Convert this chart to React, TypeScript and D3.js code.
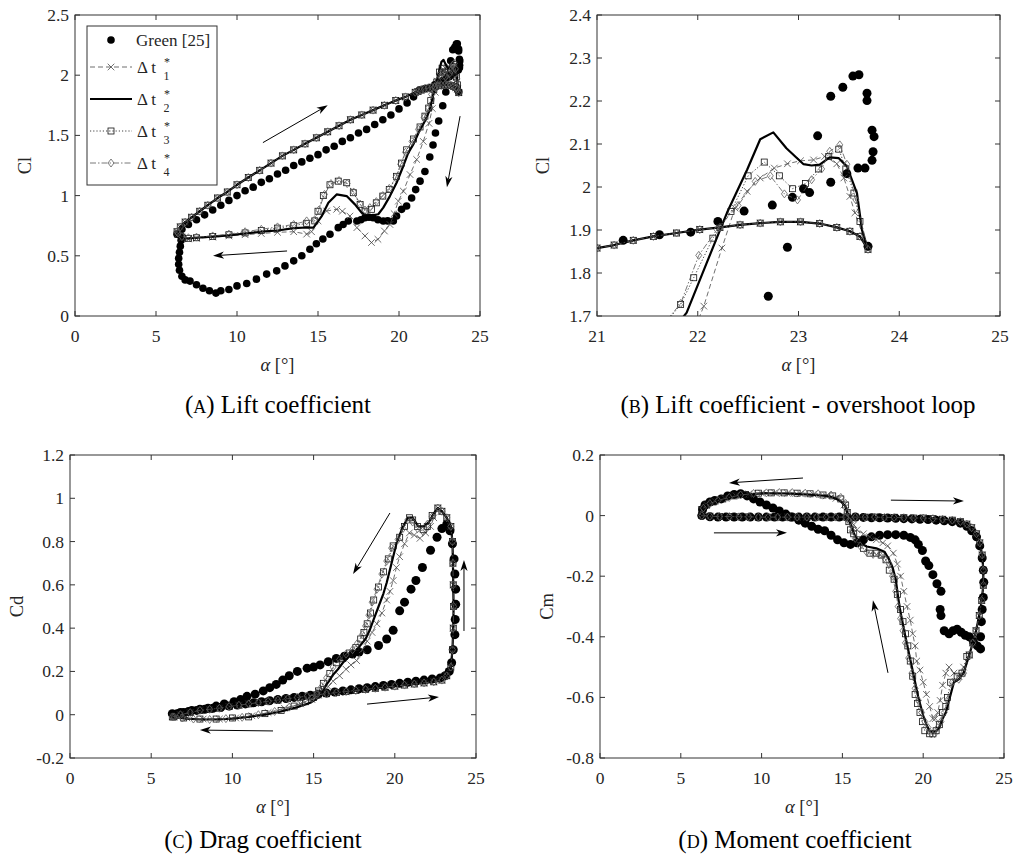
import React from "react";
import * as d3 from "d3";

type Pt = [number, number];

// ---------- axis ticks ----------
const xTicksFull = [0, 5, 10, 15, 20, 25];
const xTicksZoom = [21, 22, 23, 24, 25];
const yTicksCl = [0, 0.5, 1, 1.5, 2, 2.5];
const yTicksClZoom = [1.7, 1.8, 1.9, 2, 2.1, 2.2, 2.3, 2.4];
const yTicksCd = [-0.2, 0, 0.2, 0.4, 0.6, 0.8, 1, 1.2];
const yTicksCm = [-0.8, -0.6, -0.4, -0.2, 0, 0.2];

const legendLabels = ["Green [25]", "1", "2", "3", "4"];

// ---------- lift coefficient ----------
const clGreen: Pt[] = [
  [6.3, 0.68], [6.6, 0.72], [7.0, 0.76], [7.5, 0.8], [8.0, 0.84], [8.5, 0.88], [9.0, 0.92], [9.5, 0.96],
  [10.0, 1.0], [10.5, 1.04], [11.0, 1.07], [11.5, 1.11], [12.0, 1.14], [12.5, 1.18], [13.0, 1.21], [13.5, 1.25],
  [14.0, 1.28], [14.5, 1.31], [15.0, 1.34], [15.5, 1.38], [16.0, 1.41], [16.5, 1.45], [17.0, 1.48], [17.5, 1.52],
  [18.0, 1.55], [18.5, 1.59], [19.0, 1.63], [19.5, 1.67], [20.0, 1.72], [20.5, 1.77], [20.9, 1.82], [21.26, 1.876],
  [21.62, 1.889], [21.93, 1.895], [22.2, 1.92], [22.46, 1.944], [22.74, 1.958], [22.94, 1.976], [23.11, 1.987],
  [23.32, 2.011], [23.48, 2.031], [23.59, 2.044], [23.66, 2.044], [23.73, 2.062], [23.74, 2.082], [23.75, 2.117],
  [23.73, 2.132], [23.68, 2.201], [23.68, 2.218], [23.6, 2.261], [23.54, 2.258], [23.44, 2.232], [23.32, 2.211],
  [23.19, 2.119], [23.05, 1.996], [22.89, 1.86], [22.7, 1.746], [22.45, 1.62], [22.25, 1.52], [22.1, 1.42],
  [21.9, 1.32], [21.6, 1.2], [21.3, 1.12], [21.03, 1.05], [20.78, 0.98], [20.47, 0.913], [20.16, 0.886],
  [19.85, 0.83], [19.65, 0.789], [19.3, 0.79], [19.03, 0.789], [18.7, 0.8], [18.4, 0.817], [18.15, 0.82],
  [17.9, 0.817], [17.65, 0.8], [17.4, 0.789], [16.87, 0.789], [16.55, 0.76], [16.25, 0.734], [15.74, 0.679],
  [15.3, 0.64], [14.9, 0.6], [14.5, 0.555], [14.0, 0.5], [13.5, 0.458], [12.96, 0.416], [12.45, 0.375],
  [11.83, 0.348], [11.2, 0.306], [10.6, 0.27], [10.0, 0.25], [9.5, 0.22], [9.0, 0.21], [8.7, 0.19], [8.3, 0.21],
  [7.9, 0.23], [7.5, 0.26], [7.1, 0.29], [6.8, 0.3], [6.6, 0.33], [6.45, 0.38], [6.4, 0.43], [6.4, 0.48],
  [6.45, 0.53], [6.5, 0.58], [6.55, 0.63], [6.5, 0.67], [23.69, 1.862],
];

// upstroke branch, shared by the four time steps
const clUp: Pt[] = [
  [6.3, 0.7], [6.5, 0.74], [6.8, 0.78], [7.2, 0.82], [7.7, 0.87], [8.2, 0.92], [8.8, 0.98], [9.4, 1.03],
  [10.0, 1.09], [10.7, 1.15], [11.4, 1.21], [12.1, 1.27], [12.8, 1.33], [13.5, 1.38], [14.2, 1.43], [14.9, 1.48],
  [15.6, 1.53], [16.3, 1.58], [17.0, 1.63], [17.7, 1.67], [18.4, 1.71], [19.1, 1.75], [19.8, 1.79], [20.4, 1.82],
  [21.0, 1.858], [21.17, 1.865], [21.36, 1.876], [21.56, 1.885], [21.79, 1.893], [22.02, 1.901], [22.22, 1.906],
  [22.42, 1.912], [22.62, 1.916], [22.82, 1.919], [23.02, 1.919], [23.21, 1.915], [23.38, 1.906], [23.51, 1.897],
  [23.61, 1.885], [23.69, 1.855],
];

const clDt1Down: Pt[] = [
  [23.56, 1.94], [23.51, 1.978], [23.45, 2.021], [23.38, 2.054], [23.26, 2.071], [23.15, 2.063], [23.02, 2.061],
  [22.89, 2.054], [22.76, 2.044], [22.62, 2.021], [22.49, 1.99], [22.37, 1.951], [22.24, 1.858], [22.06, 1.723],
  [21.85, 1.6], [21.5, 1.45], [21.09, 1.3], [20.68, 1.175], [20.27, 1.037], [19.96, 0.954], [19.7, 0.85],
  [19.44, 0.76], [19.1, 0.706], [18.7, 0.637], [18.3, 0.61], [17.9, 0.665], [17.4, 0.734], [16.97, 0.83],
  [16.5, 0.87], [16.15, 0.886], [15.53, 0.872], [15.0, 0.79], [14.6, 0.7], [14.3, 0.68], [13.5, 0.7],
  [12.5, 0.695], [11.5, 0.685], [10.5, 0.675], [9.5, 0.665], [8.5, 0.655], [7.5, 0.645], [7.0, 0.64],
  [6.6, 0.65], [6.35, 0.68],
];
const clDt2Down: Pt[] = [
  [23.63, 1.9], [23.58, 1.986], [23.48, 2.048], [23.4, 2.067], [23.31, 2.069], [23.21, 2.052], [23.13, 2.05],
  [23.05, 2.053], [22.88, 2.09], [22.75, 2.127], [22.62, 2.111], [22.49, 2.04], [22.29, 1.94], [22.09, 1.824],
  [21.89, 1.708], [21.6, 1.62], [21.2, 1.52], [20.9, 1.43], [20.57, 1.355], [20.26, 1.244], [19.85, 1.107],
  [19.44, 0.996], [19.03, 0.9], [18.72, 0.845], [18.1, 0.83], [17.7, 0.858], [17.28, 0.927], [16.77, 0.996],
  [16.15, 1.01], [15.64, 0.94], [15.23, 0.83], [14.72, 0.734], [14.3, 0.735], [13.5, 0.73], [12.5, 0.71],
  [11.5, 0.7], [10.5, 0.685], [9.5, 0.67], [8.5, 0.66], [7.5, 0.65], [7.0, 0.645], [6.6, 0.65], [6.35, 0.68],
];
const clDt3Down: Pt[] = [
  [23.61, 1.92], [23.55, 1.986], [23.47, 2.042], [23.4, 2.088], [23.3, 2.071], [23.2, 2.042], [23.07, 2.008],
  [22.94, 1.996], [22.81, 2.026], [22.66, 2.058], [22.5, 2.026], [22.33, 1.943], [22.15, 1.881], [21.96, 1.789],
  [21.83, 1.727], [21.6, 1.66], [21.3, 1.57], [20.9, 1.47], [20.47, 1.38], [20.16, 1.27], [19.85, 1.16],
  [19.4, 1.05], [19.0, 0.996], [18.6, 0.94], [18.3, 0.886], [17.9, 0.87], [17.6, 0.927], [17.18, 1.024],
  [16.77, 1.107], [16.25, 1.12], [15.74, 1.09], [15.33, 1.0], [15.0, 0.87], [14.8, 0.79], [14.3, 0.77],
  [13.5, 0.75], [12.5, 0.73], [11.5, 0.71], [10.5, 0.69], [9.5, 0.675], [8.5, 0.66], [7.5, 0.65], [7.0, 0.645],
  [6.6, 0.655], [6.35, 0.68],
];
const clDt4Down: Pt[] = [
  [23.57, 1.97], [23.48, 2.053], [23.41, 2.098], [23.31, 2.083], [23.23, 2.042], [23.13, 2.017], [22.99, 1.97],
  [22.86, 1.984], [22.72, 2.026], [22.57, 2.013], [22.4, 1.957], [22.19, 1.901], [22.01, 1.841], [21.83, 1.729],
  [21.55, 1.65], [21.2, 1.55], [20.8, 1.45], [20.4, 1.36], [20.1, 1.26], [19.8, 1.15], [19.4, 1.06],
  [19.0, 1.0], [18.6, 0.95], [18.2, 0.9], [17.9, 0.88], [17.6, 0.93], [17.2, 1.03], [16.8, 1.1], [16.3, 1.125],
  [15.8, 1.1], [15.4, 1.01], [15.05, 0.88], [14.8, 0.8], [14.3, 0.79], [13.5, 0.76], [12.5, 0.74], [11.5, 0.72],
  [10.5, 0.7], [9.5, 0.68], [8.5, 0.665], [7.5, 0.655], [7.0, 0.65], [6.6, 0.66], [6.35, 0.69],
];

// ---------- drag coefficient ----------
const cdGreen: Pt[] = [
  [6.3, 0.005], [6.8, 0.01], [7.3, 0.015], [7.8, 0.02], [8.3, 0.025], [8.8, 0.03], [9.3, 0.035], [9.8, 0.04],
  [10.3, 0.045], [10.8, 0.05], [11.3, 0.055], [11.8, 0.06], [12.3, 0.065], [12.8, 0.07], [13.3, 0.075],
  [13.8, 0.08], [14.3, 0.085], [14.8, 0.09], [15.3, 0.095], [15.8, 0.1], [16.3, 0.105], [16.8, 0.11],
  [17.3, 0.115], [17.8, 0.12], [18.3, 0.125], [18.8, 0.13], [19.3, 0.135], [19.8, 0.14], [20.3, 0.145],
  [20.8, 0.15], [21.3, 0.155], [21.8, 0.16], [22.3, 0.165], [22.8, 0.17], [23.1, 0.18], [23.35, 0.2],
  [23.5, 0.24], [23.6, 0.3], [23.7, 0.37], [23.72, 0.44], [23.75, 0.51], [23.75, 0.58], [23.7, 0.65],
  [23.65, 0.72], [23.55, 0.79], [23.4, 0.85], [23.2, 0.88], [22.9, 0.86], [22.6, 0.82], [22.2, 0.76],
  [21.7, 0.68], [21.3, 0.62], [21.0, 0.58], [20.6, 0.52], [20.3, 0.48], [19.9, 0.39], [19.5, 0.35], [19.0, 0.32],
  [18.3, 0.3], [17.8, 0.29], [17.4, 0.28], [16.9, 0.27], [16.4, 0.26], [15.9, 0.245], [15.4, 0.23], [15.0, 0.22],
  [14.6, 0.215], [14.0, 0.2], [13.5, 0.18], [13.1, 0.16], [12.7, 0.14], [12.3, 0.125], [11.9, 0.11],
  [11.4, 0.095], [10.9, 0.085], [10.5, 0.07], [10.1, 0.06], [9.5, 0.05], [9.0, 0.04], [8.5, 0.03], [8.0, 0.025],
  [7.5, 0.02], [7.0, 0.01], [6.6, 0.005], [6.4, 0.0],
];

const cdUp: Pt[] = [
  [6.3, -0.01], [6.8, 0.0], [7.4, 0.01], [8.0, 0.02], [8.6, 0.025], [9.2, 0.03], [9.8, 0.038], [10.4, 0.044],
  [11.0, 0.05], [11.6, 0.056], [12.2, 0.062], [12.8, 0.068], [13.4, 0.074], [14.0, 0.08], [14.6, 0.086],
  [15.2, 0.092], [15.8, 0.097], [16.4, 0.102], [17.0, 0.107], [17.6, 0.112], [18.2, 0.117], [18.8, 0.122],
  [19.4, 0.127], [20.0, 0.132], [20.6, 0.137], [21.2, 0.142], [21.8, 0.147], [22.4, 0.152], [22.9, 0.16],
  [23.2, 0.18], [23.45, 0.22], [23.55, 0.3], [23.6, 0.4], [23.62, 0.5], [23.6, 0.6], [23.58, 0.7], [23.55, 0.8],
  [23.45, 0.87], [23.2, 0.91], [22.9, 0.94], [22.65, 0.955],
];

const cdDt1Down: Pt[] = [
  [22.4, 0.91], [22.2, 0.87], [21.9, 0.84], [21.55, 0.815], [21.2, 0.83], [20.9, 0.84], [20.6, 0.79],
  [20.3, 0.73], [20.1, 0.68], [19.9, 0.62], [19.7, 0.57], [19.5, 0.53], [19.2, 0.47], [18.9, 0.42], [18.6, 0.38],
  [18.3, 0.34], [18.0, 0.3], [17.65, 0.25], [17.3, 0.23], [17.0, 0.21], [16.6, 0.18], [16.2, 0.155],
  [15.9, 0.13], [15.6, 0.115], [15.3, 0.09], [14.9, 0.07], [14.2, 0.05], [13.2, 0.03], [12.2, 0.01],
  [11.2, -0.005], [10.2, -0.015], [9.2, -0.02], [8.2, -0.02], [7.2, -0.015], [6.4, -0.01],
];
const cdDt2Down: Pt[] = [
  [22.4, 0.93], [22.1, 0.89], [21.8, 0.87], [21.45, 0.87], [21.1, 0.91], [20.8, 0.91], [20.45, 0.86],
  [20.1, 0.79], [19.9, 0.73], [19.7, 0.67], [19.5, 0.61], [19.3, 0.56], [19.0, 0.5], [18.7, 0.44], [18.45, 0.39],
  [18.2, 0.35], [17.65, 0.3], [17.2, 0.27], [16.8, 0.24], [16.5, 0.21], [16.2, 0.185], [15.95, 0.155],
  [15.7, 0.13], [15.5, 0.1], [15.2, 0.075], [14.8, 0.055], [14.0, 0.035], [13.0, 0.015], [12.0, 0.0],
  [11.0, -0.01], [10.0, -0.018], [9.0, -0.022], [8.0, -0.022], [7.0, -0.017], [6.4, -0.01],
];
const cdDt3Down: Pt[] = [
  [22.3, 0.92], [22.0, 0.87], [21.75, 0.855], [21.4, 0.87], [21.1, 0.9], [20.9, 0.91], [20.6, 0.87],
  [20.3, 0.82], [19.9, 0.78], [19.6, 0.72], [19.3, 0.66], [19.0, 0.59], [18.7, 0.53], [18.5, 0.47], [18.3, 0.42],
  [18.1, 0.38], [17.9, 0.35], [17.6, 0.31], [17.2, 0.285], [16.8, 0.26], [16.4, 0.24], [16.0, 0.19],
  [15.6, 0.145], [15.3, 0.11], [15.0, 0.08], [14.5, 0.06], [13.8, 0.04], [13.0, 0.02], [12.0, 0.005],
  [11.0, -0.01], [10.0, -0.015], [9.0, -0.02], [8.0, -0.02], [7.0, -0.015], [6.4, -0.01],
];
const cdDt4Down: Pt[] = [
  [22.3, 0.915], [22.0, 0.88], [21.7, 0.85], [21.4, 0.86], [21.1, 0.89], [20.8, 0.9], [20.5, 0.86],
  [20.2, 0.81], [19.8, 0.77], [19.5, 0.71], [19.2, 0.65], [18.9, 0.58], [18.6, 0.52], [18.4, 0.46], [18.2, 0.41],
  [18.0, 0.37], [17.7, 0.33], [17.4, 0.3], [17.0, 0.28], [16.6, 0.255], [16.2, 0.22], [15.8, 0.17],
  [15.5, 0.13], [15.2, 0.1], [14.9, 0.075], [14.3, 0.055], [13.5, 0.035], [12.6, 0.015], [11.6, 0.0],
  [10.6, -0.012], [9.6, -0.018], [8.6, -0.022], [7.6, -0.02], [6.9, -0.015], [6.4, -0.01],
];

// ---------- moment coefficient ----------
const cmGreen: Pt[] = [
  [6.3, 0.0], [6.8, -0.004], [7.3, -0.005], [7.8, -0.005], [8.3, -0.005], [8.8, -0.005], [9.3, -0.005],
  [9.8, -0.005], [10.3, -0.005], [10.8, -0.005], [11.3, -0.005], [11.8, -0.005], [12.3, -0.005],
  [12.8, -0.005], [13.3, -0.005], [13.8, -0.005], [14.3, -0.005], [14.8, -0.005], [15.3, -0.005],
  [15.8, -0.005], [16.3, -0.006], [16.8, -0.007], [17.3, -0.007], [17.8, -0.008], [18.3, -0.009],
  [18.8, -0.01], [19.3, -0.011], [19.8, -0.012], [20.3, -0.013], [20.8, -0.015], [21.3, -0.017],
  [21.8, -0.02], [22.3, -0.025], [22.7, -0.035], [23.0, -0.05], [23.3, -0.07], [23.5, -0.1], [23.65, -0.14],
  [23.72, -0.18], [23.75, -0.22], [23.72, -0.27], [23.65, -0.31], [23.6, -0.35], [23.55, -0.4],
  [23.55, -0.44], [23.35, -0.43], [23.1, -0.415], [22.85, -0.4], [22.6, -0.395], [22.35, -0.385],
  [22.1, -0.375], [21.85, -0.38], [21.6, -0.39], [21.3, -0.38], [21.1, -0.33], [21.05, -0.31], [21.1, -0.25],
  [20.85, -0.225], [20.6, -0.195], [20.35, -0.165], [20.15, -0.15], [19.95, -0.115], [19.7, -0.095],
  [19.5, -0.08], [19.2, -0.072], [18.8, -0.065], [18.3, -0.063], [17.8, -0.063], [17.3, -0.065],
  [16.8, -0.07], [16.3, -0.08], [15.9, -0.09], [15.5, -0.095], [15.1, -0.09], [14.7, -0.08], [14.3, -0.065],
  [13.9, -0.05], [13.5, -0.045], [13.1, -0.035], [12.7, -0.025], [12.3, -0.015], [11.9, -0.005],
  [11.5, 0.005], [11.1, 0.015], [10.7, 0.025], [10.3, 0.035], [9.9, 0.045], [9.5, 0.055], [9.1, 0.065],
  [8.7, 0.072], [8.3, 0.07], [7.9, 0.065], [7.5, 0.055], [7.1, 0.05], [6.8, 0.045], [6.5, 0.035],
  [6.35, 0.02],
];

const cmUp: Pt[] = [
  [6.3, 0.0], [6.8, -0.002], [7.4, -0.003], [8.0, -0.003], [8.6, -0.004], [9.2, -0.004], [9.8, -0.005],
  [10.4, -0.005], [11.0, -0.005], [11.6, -0.005], [12.2, -0.005], [12.8, -0.005], [13.4, -0.005],
  [14.0, -0.005], [14.6, -0.005], [15.2, -0.005], [15.8, -0.005], [16.4, -0.005], [17.0, -0.005],
  [17.6, -0.006], [18.2, -0.006], [18.8, -0.007], [19.4, -0.008], [20.0, -0.008], [20.6, -0.01],
  [21.2, -0.012], [21.8, -0.015], [22.3, -0.02], [22.7, -0.028], [23.0, -0.04], [23.3, -0.06], [23.5, -0.09],
  [23.65, -0.13], [23.72, -0.18], [23.72, -0.23], [23.62, -0.28], [23.47, -0.33], [23.27, -0.38],
  [23.07, -0.42], [22.85, -0.46],
];

const cmDt1Down: Pt[] = [
  [22.5, -0.5], [22.2, -0.53], [21.9, -0.52], [21.6, -0.5], [21.4, -0.52], [21.2, -0.56], [21.05, -0.61],
  [20.9, -0.65], [20.75, -0.67], [20.6, -0.67], [20.4, -0.63], [20.2, -0.59], [20.0, -0.55], [19.8, -0.51],
  [19.6, -0.48], [19.5, -0.43], [19.35, -0.39], [19.2, -0.345], [19.0, -0.3], [18.8, -0.25], [18.6, -0.2],
  [18.4, -0.16], [18.15, -0.124], [17.8, -0.1], [17.5, -0.09], [17.1, -0.08], [16.7, -0.07], [16.3, -0.06],
  [15.9, -0.047], [15.7, -0.03], [15.5, -0.014], [15.3, 0.01], [15.1, 0.035], [14.6, 0.057], [14.0, 0.065],
  [13.2, 0.07], [12.4, 0.072], [11.6, 0.074], [10.8, 0.075], [10.0, 0.074], [9.2, 0.071], [8.4, 0.066],
  [7.7, 0.058], [7.1, 0.048], [6.6, 0.035], [6.3, 0.018],
];
const cmDt2Down: Pt[] = [
  [22.5, -0.52], [22.2, -0.54], [21.9, -0.55], [21.6, -0.61], [21.4, -0.65], [21.2, -0.67], [21.0, -0.7],
  [20.8, -0.71], [20.6, -0.715], [20.4, -0.71], [20.2, -0.69], [20.0, -0.66], [19.85, -0.63], [19.7, -0.6],
  [19.5, -0.55], [19.3, -0.5], [19.1, -0.45], [18.9, -0.4], [18.75, -0.36], [18.6, -0.32], [18.45, -0.27],
  [18.3, -0.21], [18.1, -0.17], [17.9, -0.146], [17.6, -0.119], [17.1, -0.108], [16.5, -0.102], [16.1, -0.09],
  [15.9, -0.075], [15.7, -0.058], [15.55, -0.035], [15.4, -0.014], [15.3, 0.01], [15.2, 0.03], [14.85, 0.05],
  [14.4, 0.06], [14.0, 0.065], [13.2, 0.068], [12.4, 0.071], [11.4, 0.073], [10.3, 0.074], [9.5, 0.072],
  [8.7, 0.068], [8.0, 0.06], [7.4, 0.052], [6.9, 0.043], [6.6, 0.035], [6.3, 0.019],
];
const cmDt3Down: Pt[] = [
  [22.7, -0.465], [22.4, -0.52], [22.1, -0.53], [21.7, -0.55], [21.5, -0.6], [21.4, -0.63], [21.2, -0.65],
  [21.0, -0.69], [20.8, -0.71], [20.6, -0.72], [20.4, -0.72], [20.1, -0.71], [19.95, -0.68], [19.8, -0.65],
  [19.65, -0.62], [19.5, -0.59], [19.35, -0.53], [19.2, -0.48], [19.05, -0.43], [18.9, -0.39], [18.75, -0.35],
  [18.6, -0.31], [18.4, -0.26], [18.2, -0.21], [17.9, -0.18], [17.7, -0.146], [17.4, -0.13], [17.1, -0.124],
  [16.7, -0.124], [16.3, -0.108], [15.9, -0.08], [15.7, -0.06], [15.5, -0.047], [15.4, -0.02], [15.3, 0.01],
  [15.2, 0.035], [14.9, 0.055], [14.4, 0.065], [13.8, 0.068], [13.0, 0.072], [12.2, 0.074], [11.4, 0.075],
  [10.6, 0.075], [9.8, 0.074], [9.0, 0.07], [8.3, 0.065], [7.6, 0.055], [7.0, 0.045], [6.6, 0.035],
  [6.3, 0.02],
];
const cmDt4Down: Pt[] = [
  [22.5, -0.52], [22.2, -0.54], [21.8, -0.55], [21.5, -0.61], [21.3, -0.65], [21.1, -0.68], [20.9, -0.7],
  [20.7, -0.72], [20.5, -0.72], [20.3, -0.7], [20.1, -0.68], [19.9, -0.65], [19.7, -0.61], [19.5, -0.57],
  [19.3, -0.52], [19.1, -0.47], [18.9, -0.42], [18.75, -0.38], [18.6, -0.34], [18.45, -0.3], [18.3, -0.25],
  [18.1, -0.2], [17.9, -0.16], [17.6, -0.14], [17.3, -0.13], [16.9, -0.128], [16.5, -0.12], [16.1, -0.1],
  [15.8, -0.075], [15.6, -0.05], [15.45, -0.02], [15.3, 0.01], [15.2, 0.04], [14.9, 0.06], [14.3, 0.068],
  [13.5, 0.072], [12.7, 0.074], [11.9, 0.076], [11.1, 0.076], [10.3, 0.075], [9.5, 0.073], [8.7, 0.068],
  [8.0, 0.06], [7.3, 0.05], [6.8, 0.04], [6.4, 0.025],
];

// ---------- direction arrows (data units: from -> to) ----------
const arrowsCl = [
  [11.6, 1.44, 15.6, 1.75],
  [23.77, 1.66, 22.96, 1.07],
  [13.09, 0.54, 8.52, 0.5],
];
const arrowsCd = [
  [19.7, 0.932, 17.43, 0.65],
  [18.29, 0.049, 22.72, 0.082],
  [12.5, -0.075, 8.0, -0.071],
  [24.26, 0.387, 24.26, 0.715],
];
const arrowsCm = [
  [12.56, 0.124, 7.98, 0.108],
  [7.05, -0.057, 11.57, -0.057],
  [18.0, 0.051, 22.52, 0.048],
  [17.82, -0.519, 16.89, -0.279],
];

// ---------- drawing ----------
const FONT = "Liberation Serif, Times New Roman, serif";
const AXIS = "#333";
const TXT = "#262626";

const styles = [
  { stroke: "#4a4a4a", width: 0.8, dash: "5,3", marker: "x", mcol: "#4a4a4a" },
  { stroke: "#000", width: 2.2, dash: undefined, marker: null, mcol: "#000" },
  { stroke: "#111", width: 0.8, dash: "1.2,2", marker: "square", mcol: "#111" },
  { stroke: "#555", width: 0.8, dash: "6,2,1.5,2", marker: "diamond", mcol: "#606060" },
];

function Marker({ kind, x, y, col }: { kind: string | null; x: number; y: number; col: string }) {
  if (kind === "x") {
    const s = 3.3;
    return <path d={`M${x - s},${y - s}L${x + s},${y + s}M${x - s},${y + s}L${x + s},${y - s}`} stroke={col} strokeWidth={0.8} fill="none" />;
  }
  if (kind === "square") {
    const s = 3;
    return <rect x={x - s} y={y - s} width={2 * s} height={2 * s} stroke={col} strokeWidth={0.8} fill="none" />;
  }
  if (kind === "diamond") {
    const s = 4;
    return <path d={`M${x},${y - s}L${x + s * 0.75},${y}L${x},${y + s}L${x - s * 0.75},${y}Z`} stroke={col} strokeWidth={0.8} fill="none" />;
  }
  return null;
}

function Arrow({ x1, y1, x2, y2 }: { x1: number; y1: number; x2: number; y2: number }) {
  const a = Math.atan2(y2 - y1, x2 - x1);
  const L = 11, w = 3.6;
  const c = Math.cos(a), s = Math.sin(a);
  const bx = x2 - L * c, by = y2 - L * s;
  const nx = x2 - L * 0.72 * c, ny = y2 - L * 0.72 * s;
  const d = `M${x2},${y2}L${bx - s * w},${by + c * w}L${nx},${ny}L${bx + s * w},${by - c * w}Z`;
  return (
    <g>
      <line x1={x1} y1={y1} x2={nx} y2={ny} stroke="#000" strokeWidth={1} />
      <path d={d} fill="#000" />
    </g>
  );
}

type PanelProps = {
  id: string;
  box: { l: number; r: number; t: number; b: number };
  xDom: [number, number];
  yDom: [number, number];
  xTicks: number[];
  yTicks: number[];
  yLabel: string;
  yLabelX: number;
  green: Pt[];
  sims: Pt[][];
  arrows: number[][];
  dotR: number;
};

function Panel(p: PanelProps) {
  const { box } = p;
  const x = d3.scaleLinear().domain(p.xDom).range([box.l, box.r]);
  const y = d3.scaleLinear().domain(p.yDom).range([box.b, box.t]);
  const line = d3.line<Pt>().x((d) => x(d[0])).y((d) => y(d[1]));
  const tk = 5;
  const cy = (box.t + box.b) / 2;
  const cx = (box.l + box.r) / 2;
  return (
    <g fontFamily={FONT}>
      <defs>
        <clipPath id={`clip-${p.id}`}>
          <rect x={box.l} y={box.t} width={box.r - box.l} height={box.b - box.t} />
        </clipPath>
      </defs>
      <g clipPath={`url(#clip-${p.id})`}>
        {p.green.map((d, i) => (
          <circle key={i} cx={x(d[0])} cy={y(d[1])} r={p.dotR} fill="#000" />
        ))}
        {p.sims.map((data, si) => {
          const st = styles[si];
          return (
            <g key={si}>
              <path d={line(data) || ""} fill="none" stroke={st.stroke} strokeWidth={st.width} strokeDasharray={st.dash} strokeLinejoin="round" />
              {st.marker && data.map((d, i) => <Marker key={i} kind={st.marker} x={x(d[0])} y={y(d[1])} col={st.mcol} />)}
            </g>
          );
        })}
      </g>
      {p.arrows.map((a, i) => (
        <Arrow key={i} x1={x(a[0])} y1={y(a[1])} x2={x(a[2])} y2={y(a[3])} />
      ))}
      <rect x={box.l} y={box.t} width={box.r - box.l} height={box.b - box.t} fill="none" stroke={AXIS} strokeWidth={1} />
      {p.xTicks.map((v) => (
        <g key={`x${v}`}>
          <line x1={x(v)} x2={x(v)} y1={box.b} y2={box.b - tk} stroke={AXIS} />
          <line x1={x(v)} x2={x(v)} y1={box.t} y2={box.t + tk} stroke={AXIS} />
          <text x={x(v)} y={box.b + 26} textAnchor="middle" fontSize={17.5} fill={TXT}>{String(v)}</text>
        </g>
      ))}
      {p.yTicks.map((v) => (
        <g key={`y${v}`}>
          <line x1={box.l} x2={box.l + tk} y1={y(v)} y2={y(v)} stroke={AXIS} />
          <line x1={box.r} x2={box.r - tk} y1={y(v)} y2={y(v)} stroke={AXIS} />
          <text x={box.l - 6} y={y(v) + 6} textAnchor="end" fontSize={17.5} fill={TXT}>{String(v)}</text>
        </g>
      ))}
      <text x={cx} y={box.b + 55} textAnchor="middle" fontSize={18.5} fill={TXT}>
        <tspan fontStyle="italic">α</tspan> [°]
      </text>
      <text transform={`translate(${p.yLabelX},${cy}) rotate(-90)`} textAnchor="middle" fontSize={18.5} fill={TXT}>
        {p.yLabel}
      </text>
    </g>
  );
}

function Legend() {
  const l = 87, t = 26, r = 217, b = 185;
  const rows = [40, 67, 99, 131, 163];
  return (
    <g fontFamily={FONT} fill={TXT}>
      <rect x={l} y={t} width={r - l} height={b - t} fill="#fff" stroke={AXIS} strokeWidth={1} />
      {rows.map((ry, i) => {
        if (i === 0) {
          return (
            <g key={i}>
              <circle cx={111} cy={ry} r={3.8} fill="#000" />
              <text x={136} y={ry + 6} fontSize={17}>{legendLabels[0]}</text>
            </g>
          );
        }
        const st = styles[i - 1];
        return (
          <g key={i}>
            <line x1={90} x2={132} y1={ry} y2={ry} stroke={st.stroke} strokeWidth={st.width} strokeDasharray={st.dash} />
            <Marker kind={st.marker} x={111} y={ry} col={st.mcol} />
            <text x={137} y={ry + 6} fontSize={17}>Δ  t</text>
            <text x={164} y={ry - 1} fontSize={12}>*</text>
            <text x={163.5} y={ry + 13} fontSize={12}>{legendLabels[i]}</text>
          </g>
        );
      })}
    </g>
  );
}

function Caption({ x, y, letter, text }: { x: number; y: number; letter: string; text: string }) {
  return (
    <text x={x} y={y} textAnchor="middle" fontFamily={FONT} fontSize={25} fill="#000">
      (<tspan fontSize={18}>{letter}</tspan>) {text}
    </text>
  );
}

export default function App() {
  const sim = (down: Pt[][], up: Pt[]) => down.map((d) => up.concat(d));
  const clSims = sim([clDt1Down, clDt2Down, clDt3Down, clDt4Down], clUp);
  const cdSims = sim([cdDt1Down, cdDt2Down, cdDt3Down, cdDt4Down], cdUp);
  const cmSims = sim([cmDt1Down, cmDt2Down, cmDt3Down, cmDt4Down], cmUp);
  return (
    <div style={{ position: "absolute", left: 0, top: 0 }}>
      <svg width={1019} height={863} style={{ display: "block", background: "#fff" }}>
        <Panel id="a" box={{ l: 75, r: 480, t: 15, b: 316 }} xDom={[0, 25]} yDom={[0, 2.5]} xTicks={xTicksFull} yTicks={yTicksCl}
          yLabel="Cl" yLabelX={31} green={clGreen} sims={clSims} arrows={arrowsCl} dotR={3.8} />
        <Legend />
        <Panel id="b" box={{ l: 597, r: 1000, t: 15, b: 316 }} xDom={[21, 25]} yDom={[1.7, 2.4]} xTicks={xTicksZoom} yTicks={yTicksClZoom}
          yLabel="Cl" yLabelX={549} green={clGreen} sims={clSims} arrows={[]} dotR={4.5} />
        <Panel id="c" box={{ l: 70, r: 476, t: 455, b: 758 }} xDom={[0, 25]} yDom={[-0.2, 1.2]} xTicks={xTicksFull} yTicks={yTicksCd}
          yLabel="Cd" yLabelX={23} green={cdGreen} sims={cdSims} arrows={arrowsCd} dotR={4.5} />
        <Panel id="d" box={{ l: 600, r: 1004, t: 455, b: 758 }} xDom={[0, 25]} yDom={[-0.8, 0.2]} xTicks={xTicksFull} yTicks={yTicksCm}
          yLabel="Cm" yLabelX={553} green={cmGreen} sims={cmSims} arrows={arrowsCm} dotR={4.5} />
        <Caption x={278} y={413} letter="A" text="Lift coefficient" />
        <Caption x={798} y={413} letter="B" text="Lift coefficient - overshoot loop" />
        <Caption x={263} y={848} letter="C" text="Drag coefficient" />
        <Caption x={795} y={848} letter="D" text="Moment coefficient" />
      </svg>
    </div>
  );
}
